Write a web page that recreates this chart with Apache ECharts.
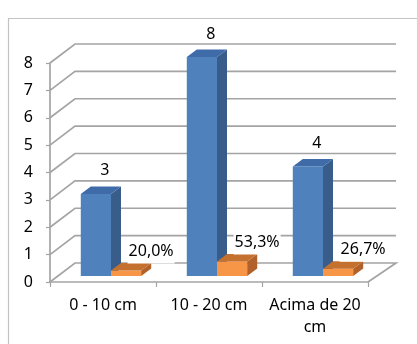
<!DOCTYPE html>
<html>
<head>
<meta charset="utf-8">
<script src="https://cdn.jsdelivr.net/npm/echarts@6/dist/echarts.min.js"></script>
<style>
  html, body { margin: 0; padding: 0; background: #fff; }
  #chart { width: 417px; height: 344px; }
</style>
</head>
<body>
<div id="chart"></div>
<script>
// Categories and values
const categories = ['0 - 10 cm', '10 - 20 cm', 'Acima de 20\ncm'];
const counts = [3, 8, 4];
const shares = [0.200, 0.533, 0.267];
const yTicks = [0, 1, 2, 3, 4, 5, 6, 7, 8];

const FONT = '"Noto Sans", sans-serif';
const FONT_SIZE = 16;
const TEXT_COLOR = '#000';
const GRID_COLOR = '#a4a4a4';

// Perspective offsets of the back wall and of the column depth
const WALL_DX = 25, WALL_DX_RIGHT = 28, WALL_DY = -19;
const SHIFT_X = 8, SHIFT_Y = -6;      // columns sit part way into the floor
const DEPTH_X = 10, DEPTH_Y = -7.5;   // depth of each column

const palette = [
  { front: '#4f81bd', side: '#385d8a', top: '#3f6ca8' },
  { front: '#f79646', side: '#b0622a', top: '#c47130' }
];

function fmtShare(v) {
  return (v * 100).toFixed(1).replace('.', ',') + '%';
}

// Back wall gridlines with their diagonals to the front axis
function renderWall(params, api) {
  const cs = params.coordSys;
  const v = api.value(0);
  const y = api.coord([0, v])[1];
  const left = cs.x, right = cs.x + cs.width;
  const pts = [[left, y], [left + WALL_DX, y + WALL_DY], [right + WALL_DX_RIGHT, y + WALL_DY]];
  if (v === 0) pts.push([right, y]);
  return {
    type: 'polyline',
    shape: { points: pts },
    style: { stroke: GRID_COLOR, lineWidth: 1.7, fill: null },
    silent: true
  };
}

function makeColumnRenderer(k) {
  return function (params, api) {
    const idx = api.value(0);
    const val = api.value(1);
    const base = api.coord([idx, 0]);
    const topY = api.coord([idx, val])[1];
    const band = api.size([1, 0])[0];
    const w = band * 0.285;
    const x0 = base[0] - w + k * w + SHIFT_X;
    const yb = base[1] + SHIFT_Y;
    const yt = topY + SHIFT_Y;
    const c = palette[k];
    const label = k === 0 ? String(val) : fmtShare(val);
    const lx = x0 + w / 2 + (k === 0 ? 9 : 25);
    const ly = yt - (k === 0 ? 23 : 19);
    return {
      type: 'group',
      children: [
        {
          type: 'rect',
          shape: { x: x0, y: yt, width: w, height: yb - yt },
          style: { fill: c.front }
        },
        {
          type: 'polygon',
          shape: { points: [[x0 + w, yb], [x0 + w + DEPTH_X, yb + DEPTH_Y], [x0 + w + DEPTH_X, yt + DEPTH_Y], [x0 + w, yt]] },
          style: { fill: c.side }
        },
        {
          type: 'polygon',
          shape: { points: [[x0, yt], [x0 + DEPTH_X, yt + DEPTH_Y], [x0 + w + DEPTH_X, yt + DEPTH_Y], [x0 + w, yt]] },
          style: { fill: c.top }
        },
        {
          type: 'text',
          x: lx,
          y: ly,
          style: {
            text: label,
            fill: TEXT_COLOR,
            font: FONT_SIZE + 'px ' + FONT,
            align: 'center',
            verticalAlign: 'middle',
            backgroundColor: k === 1 ? '#fff' : null,
            padding: k === 1 ? [4, 1] : 0
          }
        }
      ]
    };
  };
}

const chart = echarts.init(document.getElementById('chart'), null, { renderer: 'canvas' });

chart.setOption({
  backgroundColor: '#fff',
  animation: false,
  graphic: [
    {
      type: 'rect',
      left: 6, top: 16,
      shape: { width: 420, height: 340 },
      style: { fill: null, stroke: '#c4c4c4', lineWidth: 1.2 },
      z: -1,
      silent: true
    }
  ],
  grid: { left: 50, right: 49, top: 63, bottom: 62, containLabel: false },
  xAxis: {
    type: 'category',
    data: categories,
    boundaryGap: true,
    axisLine: { show: true, lineStyle: { color: GRID_COLOR, width: 1.7 } },
    axisTick: { show: true, length: 5, lineStyle: { color: GRID_COLOR, width: 1.2 } },
    axisLabel: {
      color: TEXT_COLOR,
      fontFamily: FONT,
      fontSize: FONT_SIZE,
      lineHeight: 22,
      margin: 12,
      interval: 0
    },
    splitLine: { show: false }
  },
  yAxis: {
    type: 'value',
    min: 0,
    max: 8,
    interval: 1,
    axisLine: { show: true, lineStyle: { color: GRID_COLOR, width: 1.7 } },
    axisTick: { show: true, length: 4, lineStyle: { color: GRID_COLOR, width: 1.2 } },
    axisLabel: { color: TEXT_COLOR, fontFamily: FONT, fontSize: FONT_SIZE, margin: 17 },
    splitLine: { show: false }
  },
  series: [
    {
      type: 'custom',
      name: 'wall',
      renderItem: renderWall,
      data: yTicks.map(v => [v]),
      encode: { y: 0 },
      z: 1,
      silent: true
    },
    {
      type: 'custom',
      name: 'Quantidade',
      renderItem: makeColumnRenderer(0),
      data: counts.map((v, i) => [i, v]),
      encode: { x: 0, y: 1 },
      z: 2
    },
    {
      type: 'custom',
      name: 'Percentual',
      renderItem: makeColumnRenderer(1),
      data: shares.map((v, i) => [i, v]),
      encode: { x: 0, y: 1 },
      z: 3
    }
  ]
});
</script>
</body>
</html>
